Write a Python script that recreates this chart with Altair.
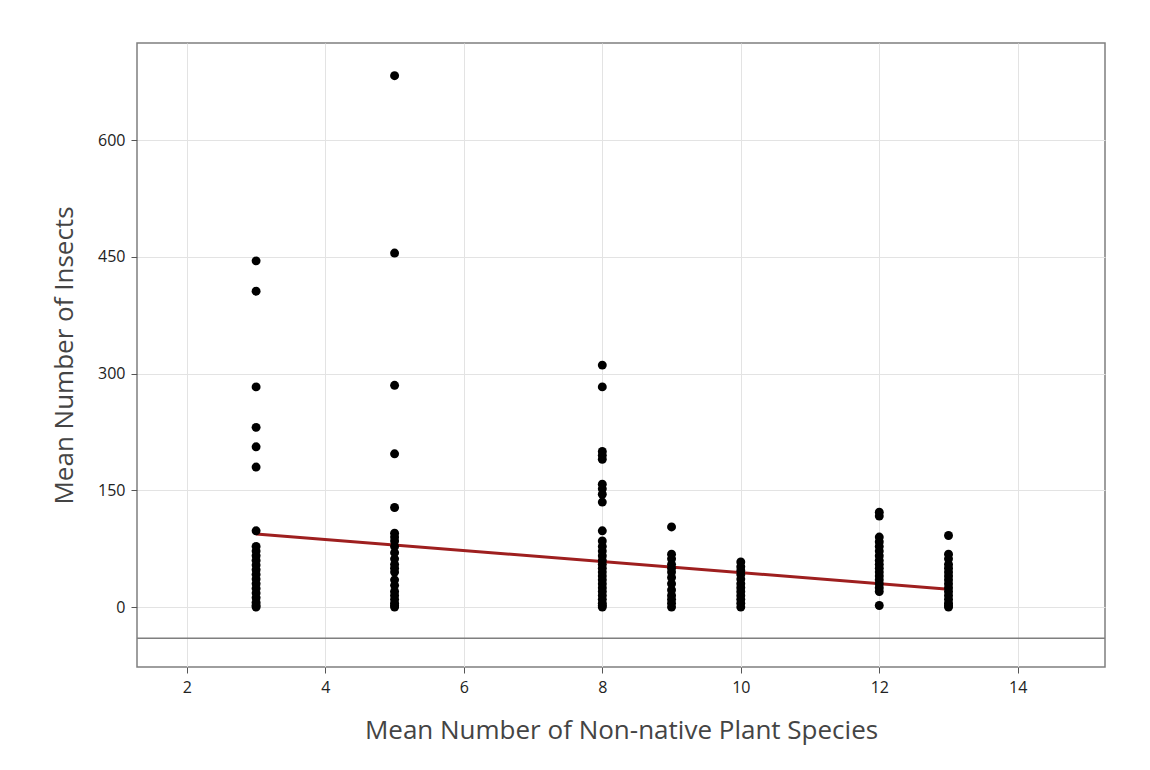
import altair as alt
import pandas as pd

# Observed points: x = mean number of non-native plant species, y = mean number of insects
x3 = [445, 406, 283, 231, 206, 180, 98, 78, 72, 66, 60, 54, 48, 42, 36, 30, 24, 18, 12, 6, 2, 0]
x5 = [683, 455, 285, 197, 128, 95, 90, 85, 78, 70, 62, 55, 50, 45, 35, 28, 20, 15, 10, 5, 2, 0]
x8 = [311, 283, 200, 195, 190, 158, 152, 145, 135, 98, 85, 78, 72, 66, 60, 55, 50, 45, 40,
      35, 30, 25, 20, 15, 10, 5, 2, 0]
x9 = [103, 68, 62, 55, 50, 45, 38, 30, 22, 15, 10, 5, 0]
x10 = [58, 52, 47, 42, 36, 30, 25, 20, 15, 10, 5, 0]
x12 = [122, 117, 90, 84, 78, 72, 66, 60, 55, 50, 45, 40, 35, 30, 25, 20, 2]
x13 = [92, 68, 62, 55, 50, 45, 40, 35, 30, 25, 20, 15, 10, 5, 2, 0]

groups = {3: x3, 5: x5, 8: x8, 9: x9, 10: x10, 12: x12, 13: x13}

fit_x = [3, 13]
fit_y = [94, 23]

x_ticks = [2, 4, 6, 8, 10, 12, 14]
y_ticks = [0, 150, 300, 450, 600]

rows = [{"x": k, "y": v} for k, vals in groups.items() for v in vals]
pts = pd.DataFrame(rows)
fit = pd.DataFrame({"x": fit_x, "y": fit_y})
sep = pd.DataFrame({"y": [-40]})

FONT = "Open Sans"
xs = alt.Scale(domain=[1.28, 15.26], nice=False, zero=False)
ys = alt.Scale(domain=[-77, 725], nice=False, zero=False)

xenc = alt.X("x:Q", scale=xs, axis=alt.Axis(
    values=x_ticks, format="d", title="Mean Number of Non-native Plant Species", grid=True,
    gridColor="#e3e3e3", domain=False, tickColor="#555", tickSize=6,
    labelFont=FONT, labelFontSize=16, labelColor="#222", labelPadding=6,
    titleFont=FONT, titleFontSize=26, titleFontWeight="normal", titleColor="#444",
    titlePadding=22))
yenc = alt.Y("y:Q", scale=ys, axis=alt.Axis(
    values=y_ticks, format="d", title="Mean Number of Insects", grid=True,
    gridColor="#e3e3e3", domain=False, tickColor="#555", tickSize=6,
    labelFont=FONT, labelFontSize=16, labelColor="#222", labelPadding=6,
    titleFont=FONT, titleFontSize=26, titleFontWeight="normal", titleColor="#444",
    titlePadding=20))

points = alt.Chart(pts).mark_circle(size=80, color="black", opacity=1).encode(x=xenc, y=yenc)

line = alt.Chart(fit).mark_line(color="#9e1f1f", strokeWidth=3).encode(
    x=alt.X("x:Q", scale=xs), y=alt.Y("y:Q", scale=ys))

rule = alt.Chart(sep).mark_rule(color="#7f7f7f", strokeWidth=1.5).encode(
    y=alt.Y("y:Q", scale=ys))

chart = alt.layer(rule, line, points).properties(
    width=968, height=624,
    padding={"left": 137, "top": 43, "right": 45, "bottom": 100},
    autosize=alt.AutoSizeParams(type="none"),
    background="white",
).configure_view(stroke="#7f7f7f", strokeWidth=1.5)

chart.save("out.html", embed_options={"renderer": "svg", "actions": False})
